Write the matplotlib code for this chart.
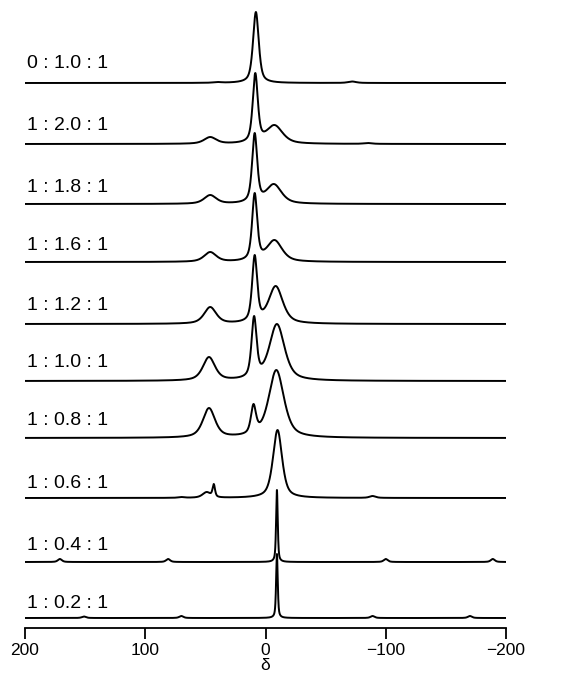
import numpy as np
import matplotlib
matplotlib.use("Agg")
import matplotlib.pyplot as plt

plt.rcParams['font.family'] = ['Liberation Sans', 'DejaVu Sans']

# ---- data (top to bottom) ----
labels = ["0 : 1.0 : 1", "1 : 2.0 : 1", "1 : 1.8 : 1", "1 : 1.6 : 1", "1 : 1.2 : 1",
          "1 : 1.0 : 1", "1 : 0.8 : 1", "1 : 0.6 : 1", "1 : 0.4 : 1", "1 : 0.2 : 1"]

# peak centres (delta, ppm)
peak_pos = [
    [8.0, 40.0, -72.0],
    [8.5, 46.0, -7.5, -85.0],
    [9.0, 46.0, -7.0],
    [9.0, 46.0, -7.5],
    [9.0, 46.0, -8.5],
    [9.5, 47.0, -9.5],
    [10.0, 47.0, -9.0],
    [-10.0, 43.0, 49.0, 70.0, -89.0],
    [-9.5, 171.0, 81.0, -100.0, -189.0],
    [-9.5, 151.0, 70.0, -89.0, -170.0],
]
# observed peak heights (arbitrary intensity units)
peak_height = [
    [71, 1, 1.5],
    [71, 7, 19, 1],
    [71, 9, 20],
    [69, 10, 22],
    [69, 17, 38],
    [65, 24, 57],
    [34, 30, 68],
    [68, 14, 6, 1, 2],
    [72, 3, 3, 3, 3],
    [64, 1.5, 2, 2, 2],
]
# half widths at half maximum (ppm)
peak_hwhm = [
    [2.8, 4, 4],
    [2.5, 6, 8, 4],
    [2.5, 6, 7.5],
    [2.5, 6, 7.5],
    [2.5, 6, 7],
    [2.5, 6, 7.5],
    [2.5, 6, 7.5],
    [4.5, 1.2, 4, 3, 3],
    [0.8, 2, 2, 2, 2],
    [0.8, 2, 2, 2, 2],
]

xticks = [200, 100, 0, -100, -200]
xticklabels = ["200", "100", "0", "\u2212100", "\u2212200"]

# ---- layout ----
W, H = 574, 678
axis_px = 628            # pixel row of the x axis
baseline_px = [83, 144, 204, 262, 324, 381, 438, 498, 562, 618]
label_px = [68, 130, 192, 250, 310, 367, 425, 488, 550, 608]
eta = 0.6                # Lorentzian fraction in pseudo-Voigt


def pv(x, c, w):
    lor = 1.0 / (1.0 + ((x - c) / w) ** 2)
    gau = np.exp(-np.log(2) * ((x - c) / w) ** 2)
    return eta * lor + (1 - eta) * gau


fig = plt.figure(figsize=(W / 100, H / 100), dpi=100)
x0, x1 = 25, 506
ax = fig.add_axes([x0 / W, (H - axis_px) / H, (x1 - x0) / W, axis_px / H])
ax.set_xlim(200, -200)
ax.set_ylim(0, axis_px)

x = np.linspace(200, -200, 16001)
for lab, pos, hts, wds, bpx, lpx in zip(labels, peak_pos, peak_height, peak_hwhm,
                                        baseline_px, label_px):
    pos = np.array(pos, float)
    hts = np.array(hts, float)
    wds = np.array(wds, float)
    M = np.array([[pv(pi, pj, wj) for pj, wj in zip(pos, wds)] for pi in pos])
    amps = np.linalg.solve(M, hts)
    y = np.zeros_like(x)
    for a, c, w in zip(amps, pos, wds):
        y += a * pv(x, c, w)
    base = axis_px - bpx
    ax.plot(x, base + y, color='black', lw=1.4, solid_joinstyle='round')
    ax.text(198.5, axis_px - lpx, lab, fontsize=14, ha='left', va='baseline', color='black')

for s in ['top', 'left', 'right']:
    ax.spines[s].set_visible(False)
ax.spines['bottom'].set_linewidth(1.3)
ax.set_yticks([])
ax.set_xticks(xticks)
ax.set_xticklabels(xticklabels, fontsize=12.5)
ax.tick_params(axis='x', direction='out', length=8, width=1.3, pad=3)
ax.set_xlabel("\u03b4", fontsize=12.5, labelpad=0)

fig.savefig("out.png", dpi=100)
